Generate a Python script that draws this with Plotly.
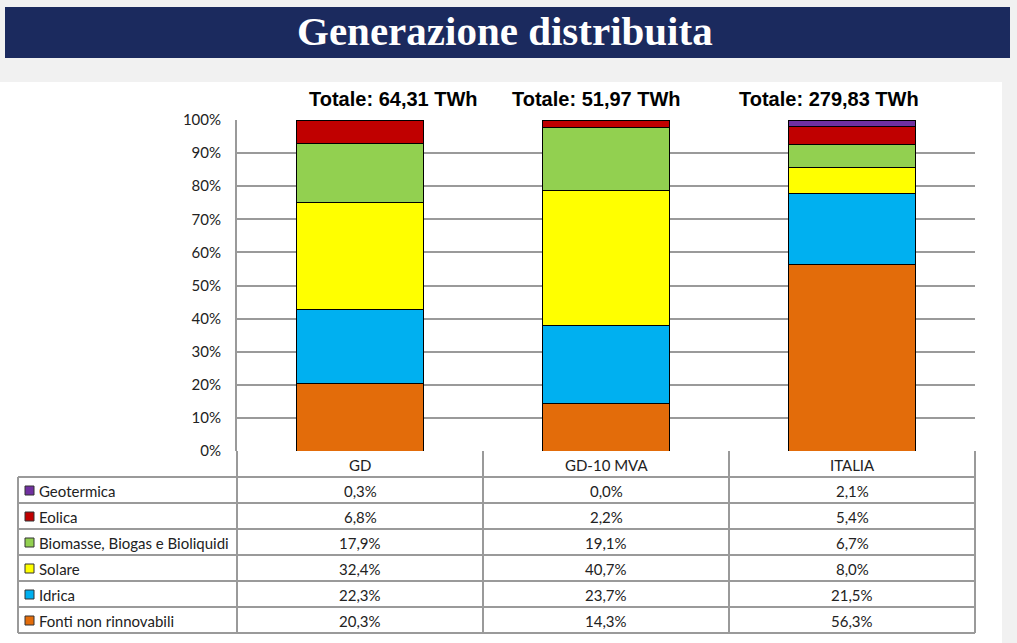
import plotly.graph_objects as go

W, H = 1017, 643

categories = ["GD", "GD-10 MVA", "ITALIA"]
totals = ["Totale: 64,31 TWh", "Totale: 51,97 TWh", "Totale: 279,83 TWh"]

# stacked bottom -> top
series_names = ["Fonti non rinnovabili", "Idrica", "Solare",
                "Biomasse, Biogas e Bioliquidi", "Eolica", "Geotermica"]
fonti = [20.3, 14.3, 56.3]
idrica = [22.3, 23.7, 21.5]
solare = [32.4, 40.7, 8.0]
biomasse = [17.9, 19.1, 6.7]
eolica = [6.8, 2.2, 5.4]
geotermica = [0.3, 0.0, 2.1]
series_values = [fonti, idrica, solare, biomasse, eolica, geotermica]
series_colors = ["#E36C0A", "#00B0F0", "#FFFF00", "#92D050", "#C00000", "#7030A0"]

y_ticks = list(range(0, 101, 10))
y_ticktext = [f"{v}%" for v in y_ticks]

# layout constants (pixels)
PL, PR, PT, PB = 237, 975, 120, 451
ROW_H = 26
TABLE_LEFT = 18
GRID = "#9a9a9a"
FONT = "Lato"


def px(x):
    return x / W


def py(y):
    return 1 - y / H


fig = go.Figure()
for name, vals, col in zip(series_names, series_values, series_colors):
    fig.add_trace(go.Bar(
        x=categories, y=vals, name=name,
        marker=dict(color=col, line=dict(color="#000000", width=1)),
        showlegend=False, hoverinfo="x+y+name",
    ))

shapes = []
annotations = []

# page background pieces
shapes.append(dict(type="rect", xref="paper", yref="paper", x0=px(5), x1=px(1010),
                   y0=py(58), y1=py(7), fillcolor="#1B2A5E", line=dict(width=0), layer="below"))
shapes.append(dict(type="rect", xref="paper", yref="paper", x0=0, x1=px(1002),
                   y0=0, y1=py(82), fillcolor="#ffffff", line=dict(width=0), layer="below"))

annotations.append(dict(xref="paper", yref="paper", x=px(505), y=py(31),
                        text="<b>Generazione distribuita</b>", showarrow=False,
                        font=dict(family="Liberation Serif", size=41, color="#ffffff"),
                        xanchor="center", yanchor="middle"))

# totals above bars
total_shift = [33, -10, -23]
for cat, t, sh in zip(categories, totals, total_shift):
    annotations.append(dict(xref="x", yref="paper", x=cat, y=py(99), xshift=sh,
                            text="<b>" + t + "</b>", showarrow=False,
                            font=dict(family="Liberation Sans", size=20, color="#000000"),
                            xanchor="center", yanchor="middle"))

# table geometry
col_w = (PR - PL) / len(categories)
n_rows = len(series_names)
rows_top = PB + ROW_H
table_bottom = rows_top + n_rows * ROW_H
line = dict(color=GRID, width=2)

for i in range(len(categories) + 1):
    xx = PL + i * col_w
    shapes.append(dict(type="line", xref="paper", yref="paper", x0=px(xx), x1=px(xx),
                       y0=py(table_bottom), y1=py(PB), line=line))
shapes.append(dict(type="line", xref="paper", yref="paper", x0=px(TABLE_LEFT), x1=px(TABLE_LEFT),
                   y0=py(table_bottom), y1=py(rows_top), line=line))
for r in range(n_rows + 1):
    yy = rows_top + r * ROW_H
    shapes.append(dict(type="line", xref="paper", yref="paper", x0=px(TABLE_LEFT), x1=px(PR),
                       y0=py(yy), y1=py(yy), line=line))

tfont = dict(family=FONT, size=15, color="#222222")
for i, cat in enumerate(categories):
    annotations.append(dict(xref="paper", yref="paper", x=px(PL + (i + 0.5) * col_w),
                            y=py(PB + ROW_H / 2 + 1), text=cat, showarrow=False,
                            font=tfont, xanchor="center", yanchor="middle"))

# rows listed top -> bottom (reverse of stack order)
for r, k in enumerate(reversed(range(n_rows))):
    yc = rows_top + (r + 0.5) * ROW_H
    shapes.append(dict(type="rect", xref="paper", yref="paper", x0=px(25), x1=px(34),
                       y0=py(yc + 5), y1=py(yc - 4), fillcolor=series_colors[k],
                       line=dict(color="#333333", width=1)))
    annotations.append(dict(xref="paper", yref="paper", x=px(37), y=py(yc + 1),
                            text=series_names[k], showarrow=False, font=tfont,
                            xanchor="left", yanchor="middle"))
    for i in range(len(categories)):
        v = series_values[k][i]
        annotations.append(dict(xref="paper", yref="paper", x=px(PL + (i + 0.5) * col_w),
                                y=py(yc + 1), text=f"{v:.1f}%".replace(".", ","),
                                showarrow=False, font=tfont,
                                xanchor="center", yanchor="middle"))

fig.update_layout(
    width=W, height=H,
    margin=dict(l=0, r=0, t=0, b=0, pad=0, autoexpand=False),
    paper_bgcolor="#f1f1f1", plot_bgcolor="#ffffff",
    barmode="stack", bargap=0.484,
    shapes=shapes, annotations=annotations,
    xaxis=dict(domain=[px(PL), px(PR)], showticklabels=False, showgrid=False,
               showline=False, zeroline=False, fixedrange=True, automargin=False),
    yaxis=dict(domain=[py(PB), py(PT)], range=[0, 100], tickvals=y_ticks,
               ticktext=y_ticktext, showgrid=True, gridcolor=GRID, gridwidth=2,
               showline=True, linecolor=GRID, linewidth=2, zeroline=False,
               ticks="", ticklabelstandoff=11, automargin=False, fixedrange=True,
               tickfont=dict(family=FONT, size=15, color="#222222")),
)

post = (
    "document.documentElement.style.margin='0';"
    "document.documentElement.style.overflow='hidden';"
    "document.body.style.margin='0';document.body.style.overflow='hidden';"
    "var d=document.getElementById('{plot_id}');"
    "d.style.position='fixed';d.style.top='0px';d.style.left='0px';"
)
fig.write_html("out.html", config={"displayModeBar": False}, post_script=post)
